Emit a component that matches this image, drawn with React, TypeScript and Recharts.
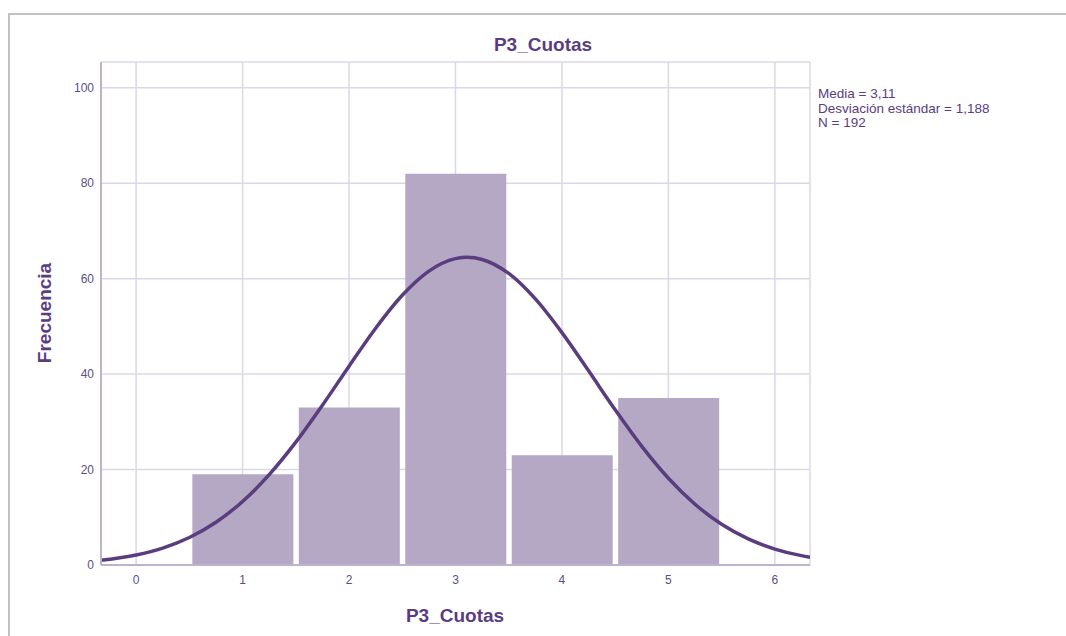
import React from 'react';
import { ComposedChart, Bar, Line, XAxis, YAxis, CartesianGrid } from 'recharts';

// Histogram bins (P3_Cuotas values) and frequencies
const categories = [1, 2, 3, 4, 5];
const frequencies = [19, 33, 82, 23, 35];

// Normal curve points (mean 3,11, sd 1,188, N 192)
const curveX = [-0.33, 0, 0.25, 0.5, 0.75, 1, 1.25, 1.5, 1.75, 2, 2.25, 2.5, 2.75, 3, 3.11, 3.25, 3.5, 3.75, 4, 4.25, 4.5, 4.75, 5, 5.25, 5.5, 5.75, 6, 6.25, 6.33];
const curveY = [0.98, 2.1, 3.55, 5.77, 8.96, 13.32, 18.93, 25.74, 33.48, 41.67, 49.61, 56.51, 61.58, 64.19, 64.47, 64.02, 61.09, 55.76, 48.69, 40.68, 32.52, 24.86, 18.19, 12.73, 8.52, 5.46, 3.34, 1.96, 1.64];

const xTicks = [0, 1, 2, 3, 4, 5, 6];
const yTicks = [0, 20, 40, 60, 80, 100];

const titleText = 'P3_Cuotas';
const xLabel = 'P3_Cuotas';
const yLabel = 'Frecuencia';
const statsLines = ['Media = 3,11', 'Desviación estándar = 1,188', 'N = 192'];

const barData = categories.map((c, i) => ({ bx: c, freq: frequencies[i] }));
const curveData = curveX.map((x, i) => ({ x, curve: curveY[i] }));

const FONT = '"Liberation Sans", Arial, sans-serif';
const PURPLE = '#5a3d7f';
const TICK = '#5e4d80';
const X_DOMAIN: [number, number] = [-0.33, 6.33];

export default function App() {
  return (
    <div style={{ position: 'absolute', left: 0, top: 0, width: 1066, height: 636, background: '#fff', overflow: 'hidden', fontFamily: FONT }}>
      <div style={{ position: 'absolute', left: 8, top: 13, width: 1070, height: 640, borderLeft: '2px solid #c2c2c2', borderTop: '2px solid #c2c2c2' }} />
      <div style={{ position: 'absolute', left: 0, top: 0 }}>
        <ComposedChart
          width={1066}
          height={636}
          data={barData}
          margin={{ top: 62, right: 256, bottom: 41, left: 41 }}
        >
          <CartesianGrid stroke="#dcd7e7" strokeWidth={1.5} />
          <XAxis
            dataKey="x"
            type="number"
            domain={X_DOMAIN}
            allowDataOverflow
            ticks={xTicks}
            height={30}
            tickLine={false}
            tickSize={6}
            tickMargin={4}
            axisLine={{ stroke: '#bdb3d0', strokeWidth: 2 }}
            tick={{ fill: TICK, fontSize: 12, fontFamily: FONT }}
          />
          <XAxis
            xAxisId="bars"
            dataKey="bx"
            type="number"
            domain={X_DOMAIN}
            allowDataOverflow
            ticks={xTicks}
            hide
          />
          <YAxis
            type="number"
            domain={[0, 105.4]}
            allowDataOverflow
            ticks={yTicks}
            width={60}
            tickLine={false}
            tickSize={5}
            tickMargin={2}
            axisLine={{ stroke: '#bdb3d0', strokeWidth: 2 }}
            tick={{ fill: TICK, fontSize: 12, fontFamily: FONT }}
          />
          <Bar xAxisId="bars" dataKey="freq" fill="#b4a8c4" barSize={101} isAnimationActive={false} />
          <Line
            data={curveData}
            dataKey="curve"
            type="monotone"
            stroke={PURPLE}
            strokeWidth={3.5}
            dot={false}
            activeDot={false}
            isAnimationActive={false}
          />
        </ComposedChart>
      </div>
      <div style={{ position: 'absolute', left: 443, width: 200, top: 35, textAlign: 'center', fontSize: 19, lineHeight: '20px', fontWeight: 'bold', color: PURPLE }}>{titleText}</div>
      <div style={{ position: 'absolute', left: 355, width: 200, top: 606, textAlign: 'center', fontSize: 19, lineHeight: '20px', fontWeight: 'bold', color: PURPLE }}>{xLabel}</div>
      <div style={{ position: 'absolute', left: 45 - 100, width: 200, top: 313 - 10, textAlign: 'center', fontSize: 19, lineHeight: '20px', fontWeight: 'bold', color: PURPLE, transform: 'rotate(-90deg)' }}>{yLabel}</div>
      <div style={{ position: 'absolute', left: 818, top: 87, fontSize: 13.5, lineHeight: '14.5px', color: PURPLE }}>
        {statsLines.map((s) => (
          <div key={s}>{s}</div>
        ))}
      </div>
    </div>
  );
}
